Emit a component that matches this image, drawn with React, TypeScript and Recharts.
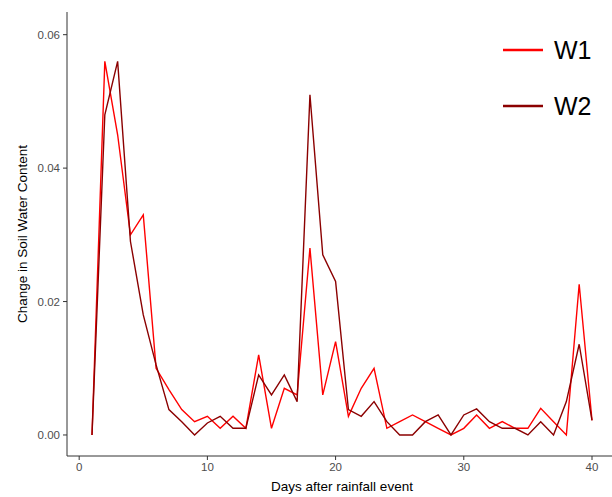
import React from "react";
import { LineChart, Line, XAxis, YAxis } from "recharts";

const days = [1, 2, 3, 4, 5, 6, 7, 8, 9, 10, 11, 12, 13, 14, 15, 16, 17, 18, 19, 20, 21, 22, 23, 24, 25, 26, 27, 28, 29, 30, 31, 32, 33, 34, 35, 36, 37, 38, 39, 40];
const w1 = [0, 0.056, 0.045, 0.030, 0.033, 0.010, 0.0068, 0.0038, 0.002, 0.0028,
  0.001, 0.0028, 0.001, 0.012, 0.001, 0.007, 0.006, 0.028, 0.006, 0.014,
  0.0028, 0.007, 0.010, 0.001, 0.002, 0.003, 0.002, 0.001, 0, 0.001,
  0.003, 0.001, 0.002, 0.001, 0.001, 0.004, 0.002, 0, 0.0226, 0.0022];
const w2 = [0, 0.048, 0.056, 0.029, 0.018, 0.0105, 0.0038, 0.002, 0, 0.0018,
  0.0028, 0.001, 0.001, 0.009, 0.006, 0.009, 0.005, 0.051, 0.027, 0.023,
  0.0038, 0.0028, 0.005, 0.002, 0, 0, 0.002, 0.003, 0, 0.003,
  0.0039, 0.002, 0.001, 0.001, 0, 0.002, 0, 0.005, 0.0136, 0.0022];
const xTicks = [0, 10, 20, 30, 40];
const yTicks = [0, 0.02, 0.04, 0.06];
const seriesNames = ["W1", "W2"];
const seriesColors = ["#FF0000", "#8B0000"];

const data = days.map((d, i) => ({ day: d, W1: w1[i], W2: w2[i] }));

const FONT = "'Liberation Sans', Arial, sans-serif";

const LegendBox = () => (
  <div style={{ position: "absolute", left: 503, top: 22, fontFamily: FONT }}>
    {seriesNames.map((n, i) => (
      <div key={n} style={{ display: "flex", alignItems: "center", height: 56 }}>
        <svg width={40} height={6} style={{ marginRight: 11 }}>
          <line x1={0} x2={40} y1={3} y2={3} stroke={seriesColors[i]} strokeWidth={2.5} />
        </svg>
        <span style={{ fontSize: 25, color: "#000" }}>{n}</span>
      </div>
    ))}
  </div>
);

export default function App() {
  return (
    <div style={{ position: "absolute", left: 0, top: 0, width: 612, height: 497, overflow: "hidden", background: "#fff" }}>
      <LineChart width={617} height={497} data={data} margin={{ top: 12, right: 0, bottom: 0, left: 0 }}>
        <XAxis
          dataKey="day"
          type="number"
          domain={[-0.95, 41.95]}
          ticks={xTicks}
          allowDataOverflow
          height={41}
          stroke="#333"
          tickSize={4}
          tickMargin={3}
          tick={{ fill: "#4D4D4D", fontSize: 11.5, fontFamily: FONT }}
          label={(props: any) => {
            const vb = props.viewBox || { x: 67, y: 456, width: 550, height: 41 };
            return (
              <text x={vb.x + vb.width / 2} y={vb.y + 35} textAnchor="middle" fontSize={13.5} fontFamily={FONT} fill="#000">
                Days after rainfall event
              </text>
            );
          }}
        />
        <YAxis
          type="number"
          domain={[-0.00315, 0.0634]}
          ticks={yTicks}
          allowDataOverflow
          width={67}
          stroke="#333"
          tickSize={4}
          tickMargin={3}
          tickFormatter={(v: number) => v.toFixed(2)}
          tick={{ fill: "#4D4D4D", fontSize: 11.5, fontFamily: FONT }}
          label={(props: any) => {
            const vb = props.viewBox || { x: 0, y: 12, width: 67, height: 444 };
            const cx = vb.x + 22;
            const cy = vb.y + vb.height / 2;
            return (
              <text x={cx} y={cy} transform={`rotate(-90, ${cx}, ${cy})`} textAnchor="middle" dominantBaseline="central" fontSize={13.5} fontFamily={FONT} fill="#000">
                Change in Soil Water Content
              </text>
            );
          }}
        />
        <Line type="linear" dataKey="W1" stroke={seriesColors[0]} strokeWidth={1.4} dot={false} isAnimationActive={false} />
        <Line type="linear" dataKey="W2" stroke={seriesColors[1]} strokeWidth={1.4} dot={false} isAnimationActive={false} />
      </LineChart>
      <LegendBox />
    </div>
  );
}
